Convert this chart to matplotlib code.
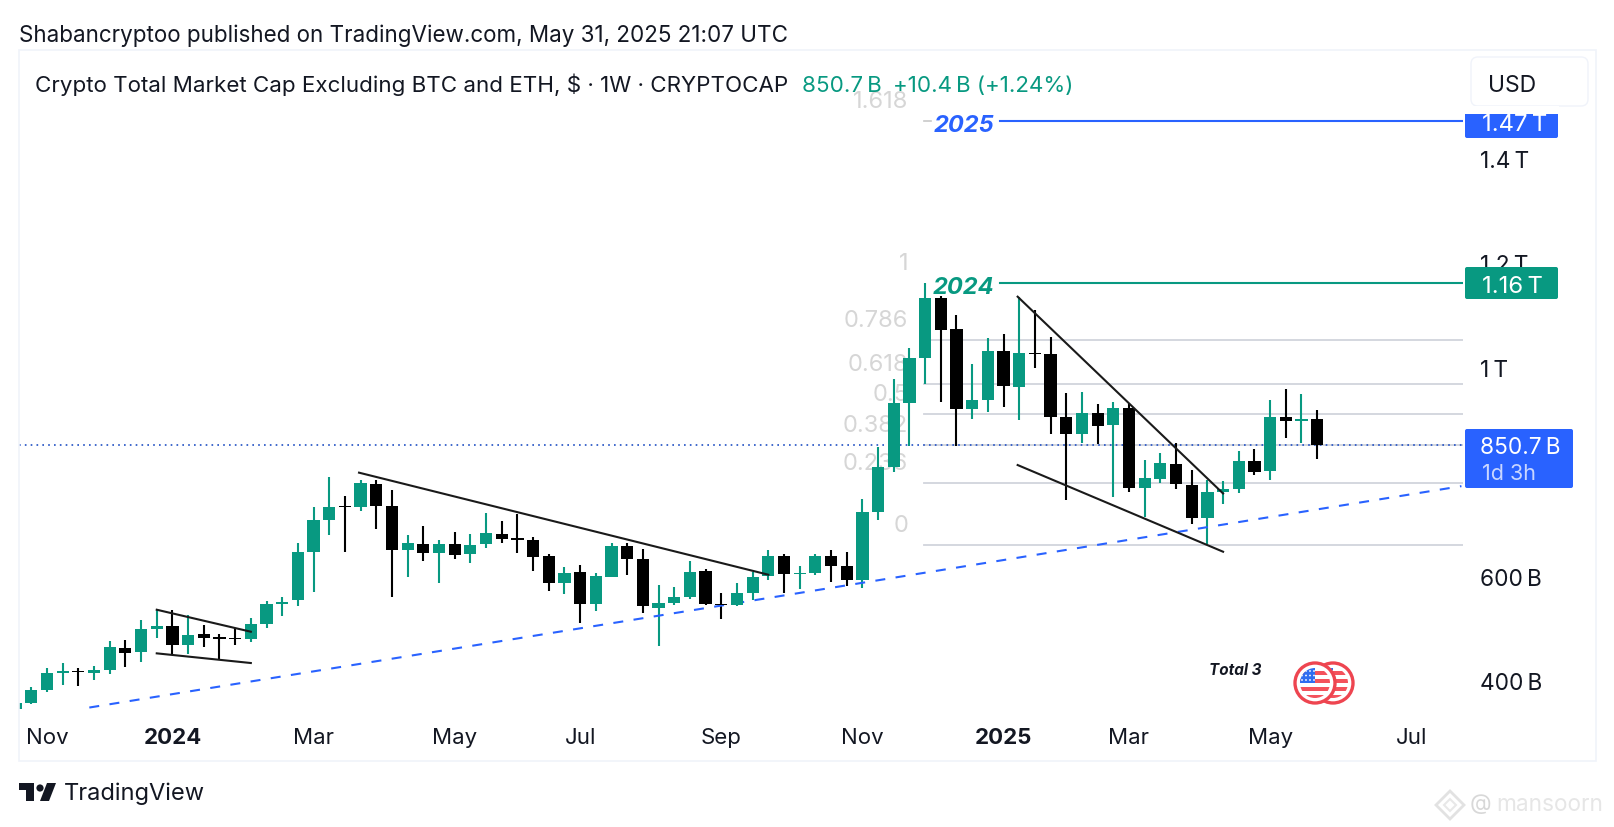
import matplotlib
matplotlib.use('Agg')
import matplotlib.pyplot as plt
from matplotlib.patches import Rectangle, FancyBboxPatch, Circle, Polygon

plt.rcParams['font.family'] = ['Inter', 'DejaVu Sans']

# weekly candles, values in billions of USD
# the first one is only a sliver at the left edge of the pane
first_week = -1
opens = [344.0, 356.9, 381.1, 414.3, 418.8, 413.7, 420.1, 462.8, 453.9, 498.5, 503.6, 467.9, 488.3, 482.6, 481.3,
         479.4, 508.1, 546.4, 554.1, 645.9, 707.8, 734.6, 731.4, 775.4, 734.6, 649.7, 660.6, 643.4, 660.6,
         641.5, 660.6, 681.0, 672.1, 669.5, 637.6, 586.6, 607.6, 547.0, 598.7, 658.0, 632.5, 539.4, 548.3,
         560.4, 608.9, 547.0, 545.1, 567.4, 599.3, 638.3, 603.8, 605.1, 638.3, 618.5, 593.0, 721.8, 808.0,
         931.7, 1017.2, 1132.1, 1072.1, 920.3, 936.8, 1030.6, 961.7, 1027.4, 1024.9, 905.0, 871.8, 912.0,
         889.0, 921.5, 767.8, 785.6, 815.0, 774.8, 711.0, 760.7, 765.8, 819.4, 801.0, 903.6, 896.0, 899.8]
highs = [358.0, 386.9, 423.9, 433.5, 424.5, 427.1, 474.9, 476.8, 515.1, 535.5, 535.5, 525.3, 506.2, 489.0, 500.5,
         519.0, 551.5, 560.4, 663.1, 731.4, 788.8, 753.7, 783.1, 784.4, 765.2, 677.8, 695.7, 668.2, 683.6,
         681.0, 719.9, 705.9, 718.6, 675.3, 641.5, 616.6, 621.0, 605.1, 662.5, 663.1, 652.3, 582.1, 578.3,
         628.1, 614.0, 566.8, 586.0, 608.3, 650.4, 642.7, 619.1, 641.5, 649.1, 646.6, 746.7, 847.5, 977.0,
         1036.4, 1160.1, 1136.5, 1099.5, 1005.1, 1054.9, 1063.2, 1134.6, 1109.1, 1057.4, 949.6, 951.5, 929.2,
         933.7, 929.2, 821.3, 836.0, 853.9, 803.5, 783.7, 781.8, 839.2, 843.7, 936.2, 958.5, 947.7, 917.7]
lows = [340.0, 355.0, 378.6, 390.7, 389.4, 401.6, 413.0, 426.4, 434.7, 482.0, 448.8, 451.3, 463.5, 441.1, 468.6,
        474.3, 501.1, 522.8, 543.2, 568.7, 678.5, 646.6, 724.4, 689.3, 560.4, 597.4, 629.3, 585.9, 631.9,
        625.5, 654.2, 663.1, 643.4, 610.2, 571.3, 564.9, 510.7, 532.4, 598.0, 602.5, 529.8, 466.0, 545.1,
        555.3, 543.8, 517.7, 543.2, 554.0, 593.0, 566.8, 575.7, 601.3, 587.9, 580.8, 577.0, 707.8, 798.4,
        848.2, 967.5, 932.4, 849.4, 900.5, 913.9, 922.8, 899.2, 997.5, 871.8, 745.4, 853.9, 852.6,
        751.8, 761.4, 712.2, 778.6, 766.5, 700.1, 661.2, 737.1, 759.5, 793.9, 783.7, 863.5, 855.2, 823.3]
closes = [357.0, 381.8, 414.3, 418.2, 416.2, 420.7, 463.5, 452.6, 498.5, 503.6, 467.9, 487.7, 480.7, 480.0, 478.8,
          508.7, 545.8, 550.9, 645.9, 707.8, 731.4, 732.0, 777.3, 734.6, 649.7, 662.5, 644.0, 660.6, 640.8,
          659.3, 682.3, 670.2, 669.5, 636.3, 586.6, 606.4, 547.0, 599.3, 658.0, 632.5, 542.6, 548.3, 559.2,
          608.3, 545.8, 545.1, 567.4, 598.7, 637.6, 603.2, 606.4, 638.9, 619.1, 593.0, 722.5, 808.6, 931.7,
          1017.2, 1132.1, 1071.5, 920.3, 936.2, 1030.6, 963.0, 1026.8, 1024.9, 905.0, 871.8, 912.0, 887.7,
          921.5, 768.4, 787.5, 815.6, 775.4, 711.0, 760.7, 765.8, 819.4, 799.7, 903.6, 896.0, 899.8, 850.7]

# fibonacci levels
fib_labels = ['0', '0.236', '0.382', '0.5', '0.618', '0.786', '1', '1.618']
fib_prices = [659, 778, 850, 910, 968, 1052, 1160, 1470]

# drawn lines as (week index, price)
flag_top = ([8, 14], [535.5, 493.4])
flag_bottom = ([8, 14], [452, 433.5])
long_top = ([20.9, 47], [797.8, 602.5])
wedge_top = ([62.9, 76], [1134.6, 758])
wedge_bottom = ([62.9, 76], [812.4, 646.5])
support = ([3.7, 91.2], [348.3, 772])

price_now = 850.7
y_ticks = [400, 600, 1000, 1200, 1400]
y_tick_labels = ['400\u2009B', '600\u2009B', '1\u2009T', '1.2\u2009T', '1.4\u2009T']
x_ticks = [1, 9, 18, 27, 35, 44, 53, 62, 70, 79, 88]
x_tick_labels = ['Nov', '2024', 'Mar', 'May', 'Jul', 'Sep', 'Nov', '2025', 'Mar', 'May', 'Jul']

GREEN = '#089981'
BLUE = '#2962ff'
W, H = 1615, 828

fig = plt.figure(figsize=(W / 100, H / 100), dpi=100, facecolor='white')

# price pane, pixels 19..1463 across and 51..710 down
ax = fig.add_axes([19 / W, (H - 710) / H, 1444 / W, 659 / H])
ax.set_xlim(-0.784, 91.3)
ax.set_ylim(345.5, 1606.7)
for s in ax.spines.values():
    s.set_visible(False)
ax.patch.set_alpha(0)

ax.yaxis.tick_right()
ax.set_yticks(y_ticks, y_tick_labels)
ax.set_xticks(x_ticks, x_tick_labels)
ax.tick_params(axis='y', length=0, pad=12, labelsize=16.3, labelcolor='#131722')
ax.tick_params(axis='x', length=0, pad=13, labelsize=16, labelcolor='#131722')
for lab in ax.get_xticklabels():
    if lab.get_text() in ('2024', '2025'):
        lab.set_fontweight('bold')

# fib levels sit under the candles
for name, p in zip(fib_labels, fib_prices):
    if name not in ('1', '1.618'):
        ax.plot([56.9, 91.3], [p, p], color='#d1d4dc', lw=1.3, zorder=1)
    ax.annotate(name, (56.9, p), xytext=(-11, 14.5), textcoords='offset points', ha='right', va='center',
                fontsize=17, color='#d6d6d6', zorder=1)
ax.plot([56.9, 57.4], [1470, 1470], color='#c8c8c8', lw=1.2, zorder=1)

# key levels
ax.plot([61.8, 91.3], [1470, 1470], color=BLUE, lw=1.5, zorder=2)
ax.plot([61.8, 91.3], [1160, 1160], color=GREEN, lw=1.5, zorder=2)
ax.annotate('2025', (59.45, 1470), xytext=(0, -2.5), textcoords='offset points', color=BLUE, fontsize=17,
            fontweight='bold', style='italic', ha='center', va='center', zorder=2)
ax.annotate('2024', (59.45, 1160), xytext=(0, -2.5), textcoords='offset points', color=GREEN, fontsize=17,
            fontweight='bold', style='italic', ha='center', va='center', zorder=2)

ax.axhline(price_now, color='#1f4fc4', lw=1.2, ls=(0, (1, 2.5)), zorder=2)

# candles
for i in range(len(opens)):
    x = first_week + i
    col = GREEN if closes[i] >= opens[i] else 'black'
    ax.plot([x, x], [lows[i], highs[i]], color=col, lw=1.5, solid_capstyle='butt', zorder=3)
    bottom = min(opens[i], closes[i])
    height = abs(closes[i] - opens[i])
    ax.add_patch(Rectangle((x - 0.39, bottom), 0.78, height, facecolor=col, edgecolor='none', zorder=4))

# trend lines
for line in [flag_top, flag_bottom, long_top, wedge_top, wedge_bottom]:
    ax.plot(line[0], line[1], color='#1a1a1a', lw=1.5, zorder=5)
ax.plot(support[0], support[1], color=BLUE, lw=1.5, ls=(0, (4.8, 5)), zorder=3)

# everything around the pane, in pixel coordinates
ov = fig.add_axes([0, 0, 1, 1], zorder=5)
ov.set_xlim(0, W)
ov.set_ylim(H, 0)
ov.axis('off')

ov.add_patch(Rectangle((19, 51), 1577, 711, fill=False, edgecolor='#f0f3fa', lw=1.2))

ov.text(19, 36, 'Shabancryptoo published on TradingView.com, May 31, 2025 21:07 UTC', fontsize=16.15,
        color='#131722', va='center')
ov.text(35, 85, 'Crypto Total Market Cap Excluding BTC and ETH, $ \u00b7 1W \u00b7 CRYPTOCAP', fontsize=16.1,
        color='#131722', va='center')
ov.text(802, 86, '850.7\u2009B', fontsize=16.1, color=GREEN, va='center')
ov.text(893, 86, '+10.4\u2009B (+1.24%)', fontsize=16.1, color=GREEN, va='center')

ov.add_patch(FancyBboxPatch((1471, 58), 117, 49, boxstyle='round,pad=0,rounding_size=7',
                            facecolor='white', edgecolor='#f0f3fa', lw=1))
ov.text(1488, 86, 'USD', fontsize=16.5, color='#131722', va='center')

# value badges on the price scale
ov.add_patch(FancyBboxPatch((1465, 110), 93, 29, boxstyle='round,pad=0,rounding_size=2', facecolor=BLUE, edgecolor='none'))
ov.add_patch(Rectangle((1465, 107), 94, 8, facecolor='white', edgecolor='none'))
ov.text(1482, 125, '1.47\u2009T', fontsize=17.2, color='white', va='center')
ov.add_patch(FancyBboxPatch((1465, 268), 93, 32, boxstyle='round,pad=0,rounding_size=2', facecolor=GREEN, edgecolor='none'))
ov.text(1482, 287, '1.16\u2009T', fontsize=17.2, color='white', va='center')
ov.add_patch(FancyBboxPatch((1465, 430), 108, 59, boxstyle='round,pad=0,rounding_size=2', facecolor=BLUE, edgecolor='none'))
ov.text(1480, 448, '850.7\u2009B', fontsize=16.3, color='white', va='center')
ov.text(1482, 474, '1d 3h', fontsize=15.5, color='#c9d6ff', va='center')

ov.text(1209, 671, 'Total 3', fontsize=11, fontweight='bold', style='italic', color='#131722', va='center')

# the two flag coins, back one first
for cx in [1333, 1315]:
    ov.add_patch(Circle((cx, 684), 20, facecolor='white', edgecolor='#ee4550', lw=2.4))
    clip = Circle((cx, 684), 15, transform=ov.transData)
    for k in range(4):
        r = ov.add_patch(Rectangle((cx - 16, 672 + k * 8), 32, 4.2, facecolor='#f4525c', edgecolor='none'))
        r.set_clip_path(clip)
    c = ov.add_patch(Rectangle((cx - 16, 668), 16, 16, facecolor='#2f6df0', edgecolor='none'))
    c.set_clip_path(clip)
    for dx in range(4):
        for dy in range(3):
            d = ov.add_patch(Circle((cx - 13 + dx * 4, 672 + dy * 4.5), 0.9, facecolor='white', edgecolor='none'))
            d.set_clip_path(clip)

# logo and footer
ov.add_patch(Polygon([(19, 784), (34, 784), (34, 802), (26, 802), (26, 791), (19, 791)], facecolor='#131722', edgecolor='none'))
ov.add_patch(Circle((40, 789), 3.6, facecolor='#131722', edgecolor='none'))
ov.add_patch(Polygon([(47, 784), (56, 784), (49, 802), (40, 802)], facecolor='#131722', edgecolor='none'))
ov.text(64, 794, 'TradingView', fontsize=17, color='#131722', va='center')

# faint watermark
ov.add_patch(Polygon([(1450, 792), (1464, 806), (1450, 820), (1436, 806)], facecolor='none', edgecolor='#e2e2e2', lw=2))
ov.add_patch(Polygon([(1450, 800), (1456, 806), (1450, 812), (1444, 806)], facecolor='none', edgecolor='#e8e8e8', lw=1.5))
ov.text(1470, 804, '@', fontsize=16, color='#d8d8d8', va='center')
ov.text(1496, 805, 'mansoorn', fontsize=16.3, color='#e6e6e6', va='center')

fig.savefig('out.png', dpi=100)
